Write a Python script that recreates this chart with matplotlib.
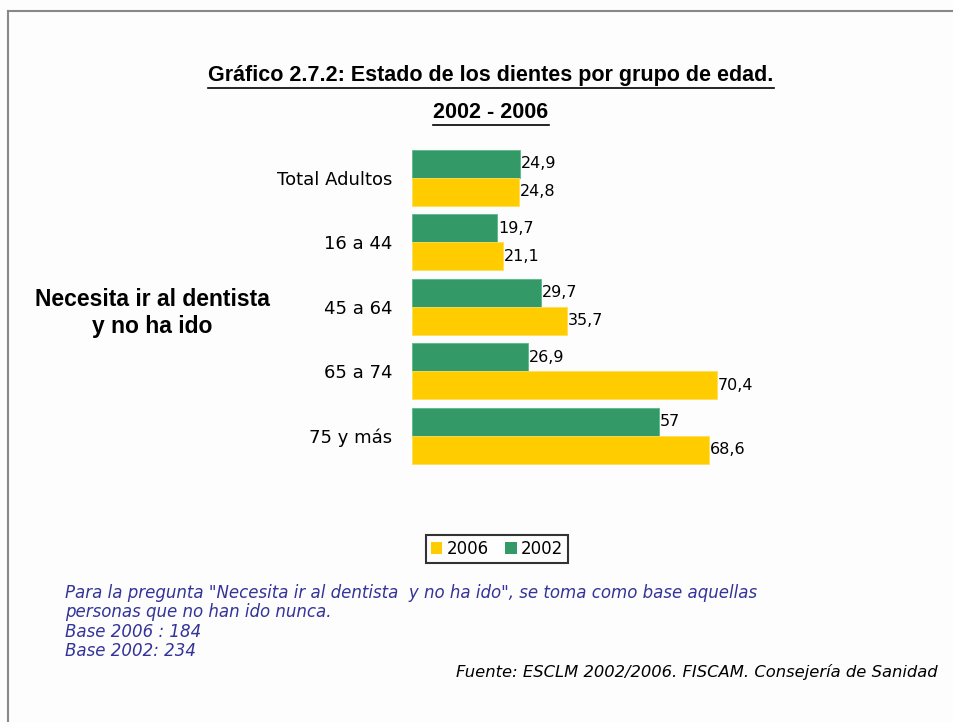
import numpy as np
import matplotlib.pyplot as plt
from matplotlib.patches import Patch
from matplotlib.lines import Line2D

plt.rcParams['font.family'] = ['Liberation Sans', 'DejaVu Sans']

groups = ['Total Adultos', '16 a 44', '45 a 64', '65 a 74', '75 y más']
v2002 = [24.9, 19.7, 29.7, 26.9, 57]
v2006 = [24.8, 21.1, 35.7, 70.4, 68.6]
lab2002 = ['24,9', '19,7', '29,7', '26,9', '57']
lab2006 = ['24,8', '21,1', '35,7', '70,4', '68,6']

green = '#339966'
yellow = '#ffcc00'
W, H = 954, 722
wide = ['DejaVu Sans']

fig = plt.figure(figsize=(9.54, 7.22), dpi=100)
fig.patch.set_facecolor('#fdfdfd')

# axes in pixel coords
left, right, top, bottom = 412, 742, 140, 470
ax = fig.add_axes([left / W, 1 - bottom / H, (right - left) / W, (bottom - top) / H])
ax.set_facecolor('none')

y = np.arange(len(groups))
h = 0.435
ax.barh(y - h / 2, v2002, height=h, color=green, edgecolor='#55bb88', linewidth=0.6)
ax.barh(y + h / 2, v2006, height=h, color=yellow, edgecolor='#ffdd55', linewidth=0.6)
for i in range(len(groups)):
    ax.text(v2002[i] + 0.2, y[i] - h / 2, lab2002[i], va='center', ha='left', fontsize=11.5, family=wide)
    ax.text(v2006[i] + 0.2, y[i] + h / 2, lab2006[i], va='center', ha='left', fontsize=11.5, family=wide)

ax.set_xlim(0, (right - left) / 4.33)
ax.set_ylim(4.535, -0.59)
ax.set_yticks(y)
ax.set_yticklabels(groups, fontsize=13, family=wide)
ax.tick_params(axis='y', length=0, pad=14)
ax.set_xticks([])
for s in ax.spines.values():
    s.set_visible(False)

# frame lines at top and left
fig.add_artist(Line2D([8 / W, 8 / W], [0, 1 - 11 / H], color='#888888', lw=1.5))
fig.add_artist(Line2D([8 / W, 1], [1 - 11 / H, 1 - 11 / H], color='#888888', lw=1.5))

# underlined titles
def underlined(x, yp, s, size):
    t = fig.text(x / W, 1 - yp / H, s, ha='center', va='center', fontsize=size, fontweight='bold')
    fig.canvas.draw()
    bb = t.get_window_extent()
    yl = bb.y0 - 1
    fig.add_artist(Line2D([bb.x0 / W, bb.x1 / W], [yl / H, yl / H], color='black', lw=1.2))

underlined(491, 76, 'Gráfico 2.7.2: Estado de los dientes por grupo de edad.', 15.5)
underlined(491, 113, '2002 - 2006', 15.5)

fig.text(152 / W, 1 - 313 / H, 'Necesita ir al dentista\ny no ha ido', ha='center', va='center',
         fontsize=16.5, fontweight='bold', linespacing=1.2)

handles = [Patch(facecolor=yellow, label='2006'), Patch(facecolor=green, label='2002')]
leg = fig.legend(handles=handles, loc='center', bbox_to_anchor=(497 / W, 1 - 549 / H), ncol=2,
                 prop={'family': wide, 'size': 12}, frameon=True, fancybox=False,
                 handlelength=0.7, handleheight=0.7,
                 handletextpad=0.25, columnspacing=1.0, borderpad=0.3)
leg.get_frame().set_edgecolor('black')
leg.get_frame().set_linewidth(1.5)

note = ('Para la pregunta "Necesita ir al dentista  y no ha ido", se toma como base aquellas\n'
        'personas que no han ido nunca.\nBase 2006 : 184\nBase 2002: 234')
fig.text(65 / W, 1 - 584 / H, note, ha='left', va='top', fontsize=12, style='italic',
         color='#333399', linespacing=1.1, family=wide)

fig.text(938 / W, 1 - 672 / H, 'Fuente: ESCLM 2002/2006. FISCAM. Consejería de Sanidad',
         ha='right', va='center', fontsize=11.8, style='italic', family=wide)

fig.savefig('out.png', dpi=100, facecolor=fig.get_facecolor())
